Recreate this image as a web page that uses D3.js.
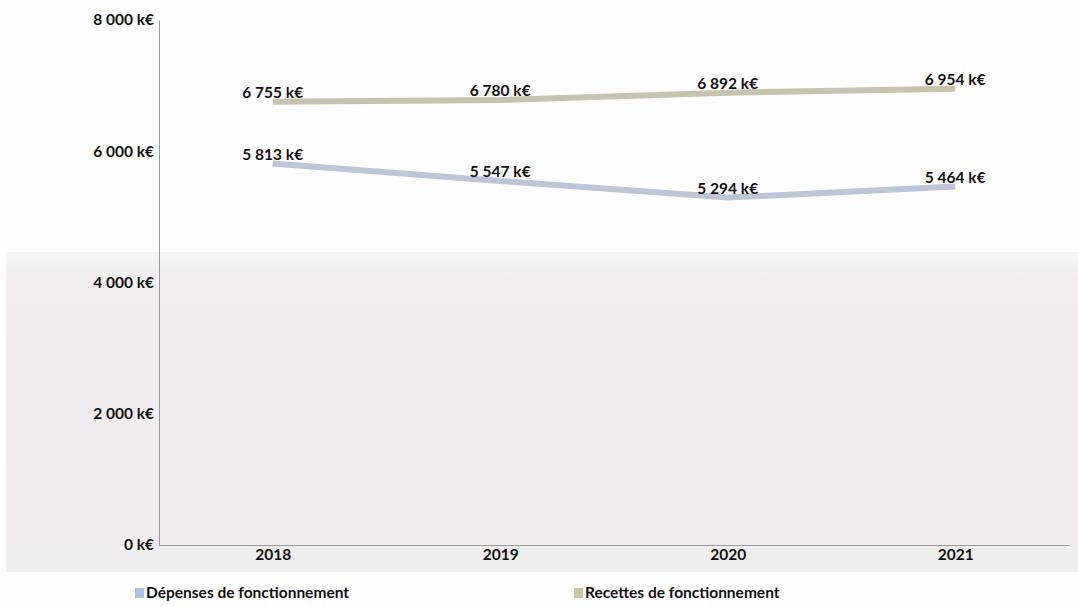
<!DOCTYPE html>
<html>
<head>
<meta charset="utf-8">
<script src="https://cdn.jsdelivr.net/npm/d3@7"></script>
<style>
  html, body { margin: 0; padding: 0; background: #fdfdfd; }
  svg { display: block; }
  text { font-family: Lato, "Open Sans", sans-serif; font-weight: 700; fill: #111; }
</style>
</head>
<body>
<svg id="chart" width="1078" height="606"></svg>
<script>
// Budget de fonctionnement, 2018–2021 (k€)
const years = ["2018", "2019", "2020", "2021"];
const depenses = [5813, 5547, 5294, 5464];
const recettes = [6755, 6780, 6892, 6954];
const yTicks = [0, 2000, 4000, 6000, 8000];
const seriesNames = ["Dépenses de fonctionnement", "Recettes de fonctionnement"];
const seriesColors = ["#bcc6d8", "#c6c4ae"];
const swatchColors = ["#a9c3e0", "#c9c5a2"];

const svg = d3.select("#chart");
const W = 1078, H = 606;
const plotLeft = 159, plotRight = 1069, plotTop = 20, plotBottom = 545;

const fmt = v => d3.format(",")(v).replace(/,/g, " ") + " k€";

// soft paper tint behind the lower part of the chart
const defs = svg.append("defs");
const grad = defs.append("linearGradient").attr("id", "paper")
  .attr("x1", 0).attr("y1", 0).attr("x2", 0).attr("y2", 1);
grad.append("stop").attr("offset", "0%").attr("stop-color", "#f6f5f5");
grad.append("stop").attr("offset", "8%").attr("stop-color", "#f0eeee");
grad.append("stop").attr("offset", "45%").attr("stop-color", "#f1ecee");
grad.append("stop").attr("offset", "100%").attr("stop-color", "#efeeee");
svg.append("rect").attr("x", 6).attr("y", 252).attr("width", W - 6).attr("height", 320)
  .attr("fill", "url(#paper)");

const x = d3.scalePoint().domain(years).range([plotLeft, plotRight]).padding(0.5);
const y = d3.scaleLinear().domain([0, 8000]).range([plotBottom, plotTop]);

// value axis
const yAxis = svg.append("g").attr("transform", `translate(${plotLeft},0)`)
  .call(d3.axisLeft(y).tickValues(yTicks).tickSize(0).tickPadding(5).tickFormat(fmt));
yAxis.select(".domain").attr("stroke", "#9a9a9a").attr("stroke-width", 1);
yAxis.selectAll("text").attr("font-size", 15.5).attr("fill", "#111")
  .attr("font-family", "Lato, sans-serif").attr("font-weight", 700);

// category axis
const xAxis = svg.append("g").attr("transform", `translate(0,${plotBottom})`)
  .call(d3.axisBottom(x).tickSize(0).tickPadding(4));
xAxis.select(".domain").attr("stroke", "#9a9a9a").attr("stroke-width", 1);
xAxis.selectAll("text").attr("font-size", 15.5).attr("fill", "#111")
  .attr("font-family", "Lato, sans-serif").attr("font-weight", 700);

const series = [depenses, recettes];
const line = d3.line().x((d, i) => x(years[i])).y(d => y(d));

series.forEach((vals, s) => {
  svg.append("path").datum(vals)
    .attr("d", line)
    .attr("fill", "none")
    .attr("stroke", seriesColors[s])
    .attr("stroke-width", 6)
    .attr("stroke-linejoin", "round");

  svg.append("g").selectAll("text").data(vals).join("text")
    .attr("x", (d, i) => x(years[i]))
    .attr("y", d => y(d) - 9)
    .attr("dy", "0.35em")
    .attr("text-anchor", "middle")
    .attr("font-size", 15.5)
    .text(d => fmt(d));
});

// legend
const legendX = [135, 574];
seriesNames.forEach((name, s) => {
  const g = svg.append("g").attr("transform", `translate(${legendX[s]},593)`);
  g.append("rect").attr("x", 0).attr("y", -5).attr("width", 9).attr("height", 10)
    .attr("fill", swatchColors[s]);
  g.append("text").attr("x", 11).attr("dy", "0.35em").attr("font-size", 15.5).text(name);
});
</script>
</body>
</html>
